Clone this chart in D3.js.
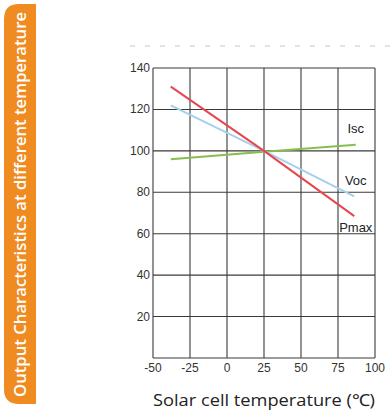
<!DOCTYPE html>
<html><head><meta charset="utf-8">
<script src="https://cdn.jsdelivr.net/npm/d3@7"></script>
<style>html,body{margin:0;padding:0;background:#fff;}svg{display:block;}</style>
</head><body>
<svg id="c" width="392" height="417"></svg>
<script>
const xTicks = [-50, -25, 0, 25, 50, 75, 100];
const yTicks = [20, 40, 60, 80, 100, 120, 140];
const seriesNames = ["Isc", "Voc", "Pmax"];
const seriesColors = ["#86bf4f", "#a5d0ea", "#e8464f"];
const isc = [[-38, 96], [25, 99.6], [87, 103]];
const voc = [[-38, 122], [25, 100], [86, 78]];
const pmax = [[-38, 131], [25, 100], [86, 68.5]];
const labelPos = [[87, 108.5], [87, 83.5], [87, 61]];
const sideTitle = "Output Characteristics at different temperature";
const xTitle = "Solar cell temperature (\u2103)";

const svg = d3.select("#c");
const x = d3.scaleLinear().domain([-50, 100]).range([153, 375]);
const y = d3.scaleLinear().domain([0, 140]).range([358, 68]);

// side bar
const bx = 4, bw = 32, by = 4, bh = 400, r = 15;
svg.append("path")
  .attr("d", `M${bx+bw},${by} L${bx+r},${by} Q${bx},${by} ${bx},${by+r} L${bx},${by+bh-r} Q${bx},${by+bh} ${bx+r},${by+bh} L${bx+bw},${by+bh} Z`)
  .attr("fill", "#ef8b20");
svg.append("text")
  .attr("transform", `translate(${bx+bw/2+5.5},${by+bh-7}) rotate(-90)`)
  .attr("font-family", "Open Sans, sans-serif")
  .attr("font-size", 15.5)
  .attr("font-weight", 600)
  .attr("fill", "#fff")
  .attr("textLength", 385)
  .attr("lengthAdjust", "spacingAndGlyphs")
  .text(sideTitle);

// dashed top line
svg.append("line").attr("x1", 130).attr("x2", 392).attr("y1", 46).attr("y2", 46)
  .attr("stroke", "#c8c8c8").attr("stroke-width", 1.2).attr("stroke-dasharray", "5,10");

// grid
const g = svg.append("g");
g.selectAll("line.v").data(xTicks).enter().append("line")
  .attr("x1", d => x(d)).attr("x2", d => x(d)).attr("y1", y(140)).attr("y2", y(0))
  .attr("stroke", "#3a3a3a").attr("stroke-width", 1.1);
g.selectAll("line.h").data([0].concat(yTicks)).enter().append("line")
  .attr("x1", x(-50)).attr("x2", x(100)).attr("y1", d => y(d)).attr("y2", d => y(d))
  .attr("stroke", "#3a3a3a").attr("stroke-width", 1.1);

// tick labels
g.selectAll("text.y").data(yTicks).enter().append("text")
  .attr("x", x(-50) - 3).attr("y", d => y(d) + 4)
  .attr("text-anchor", "end")
  .attr("font-family", "Liberation Sans Narrow, Liberation Sans, Arial, sans-serif")
  .attr("font-size", 12).attr("fill", "#333")
  .text(d => d);
g.selectAll("text.x").data(xTicks).enter().append("text")
  .attr("x", d => x(d)).attr("y", y(0) + 14)
  .attr("text-anchor", "middle")
  .attr("font-family", "Liberation Sans Narrow, Liberation Sans, Arial, sans-serif")
  .attr("font-size", 12).attr("fill", "#333")
  .text(d => d);

// series
const line = d3.line().x(d => x(d[0])).y(d => y(d[1]));
[isc, voc, pmax].forEach((s, i) => {
  svg.append("path").attr("d", line(s)).attr("fill", "none")
    .attr("stroke", seriesColors[i]).attr("stroke-width", 2);
});
seriesNames.forEach((n, i) => {
  svg.append("text")
    .attr("x", x(labelPos[i][0])).attr("y", y(labelPos[i][1]))
    .attr("text-anchor", "middle")
    .attr("font-family", "Liberation Sans, Arial, sans-serif")
    .attr("font-size", 13).attr("fill", "#222")
    .text(n);
});

// x title
svg.append("text")
  .attr("x", 264).attr("y", 406)
  .attr("text-anchor", "middle")
  .attr("font-family", "Open Sans, sans-serif")
  .attr("font-size", 16.5)
  .attr("fill", "#222")
  .attr("textLength", 222)
  .attr("lengthAdjust", "spacingAndGlyphs")
  .text(xTitle);
</script>
</body></html>
